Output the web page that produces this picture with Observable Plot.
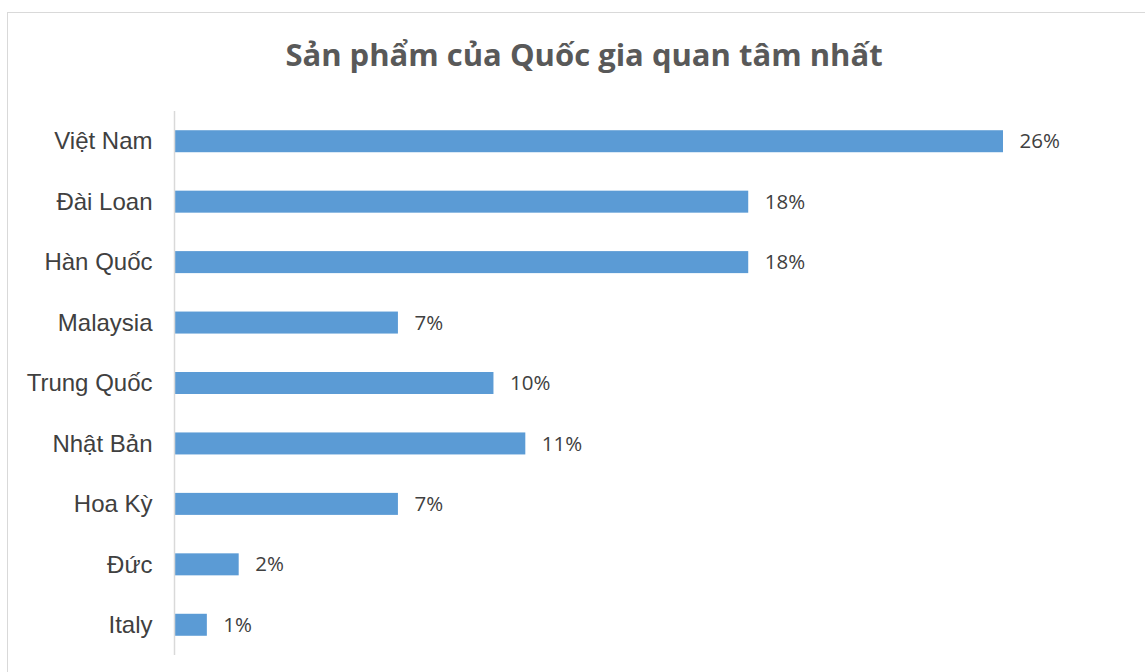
<!DOCTYPE html>
<html>
<head>
<meta charset="utf-8">
<script src="https://cdn.jsdelivr.net/npm/d3@7"></script>
<script src="https://cdn.jsdelivr.net/npm/@observablehq/plot@0.6"></script>
<style>
  html, body { margin: 0; padding: 0; background: #fff; width: 1145px; height: 672px; overflow: hidden; }
  #frame { position: absolute; left: 7px; top: 12px; width: 1160px; height: 680px; border: 1px solid #d9d9d9; box-sizing: border-box; }
  #title { position: absolute; left: 0; top: 34px; width: 1168px; text-align: center; font-family: "Open Sans", sans-serif; font-weight: 700; font-size: 31px; line-height: 40px; color: #595959; }
  #chart { position: absolute; left: 0; top: 90px; }
</style>
</head>
<body>
<div id="frame"></div>
<div id="title">Sản phẩm của Quốc gia quan tâm nhất</div>
<div id="chart"></div>
<script>
const countries = ["Việt Nam", "Đài Loan", "Hàn Quốc", "Malaysia", "Trung Quốc", "Nhật Bản", "Hoa Kỳ", "Đức", "Italy"];
const shares = [26, 18, 18, 7, 10, 11, 7, 2, 1];
const labels = ["26%", "18%", "18%", "7%", "10%", "11%", "7%", "2%", "1%"];

const data = countries.map((c, i) => ({country: c, value: shares[i], label: labels[i]}));

const chart = Plot.plot({
  width: 1145,
  height: 582,
  marginLeft: 175,
  marginRight: 142,
  marginTop: 21,
  marginBottom: 17,
  x: {domain: [0, 26], axis: null},
  y: {domain: countries, paddingInner: 0.636, paddingOuter: 0.318, round: false, label: null},
  style: {background: "transparent", overflow: "visible"},
  marks: [
    Plot.axisY({tickSize: 0, tickPadding: 23, fontSize: 24, fill: "#404040", fontFamily: "'Liberation Sans', Arial, sans-serif", label: null}),
    Plot.barX(data, {x: "value", y: "country", fill: "#5b9bd5"}),
    Plot.ruleX([0], {stroke: "#d9d9d9", strokeWidth: 1.5, dx: -1}),
    Plot.text(data, {x: "value", y: "country", text: "label", dx: 16, textAnchor: "start", fontSize: 20.5, fill: "#404040", fontFamily: "'Open Sans', sans-serif"})
  ]
});
document.getElementById("chart").appendChild(chart);
</script>
</body>
</html>
